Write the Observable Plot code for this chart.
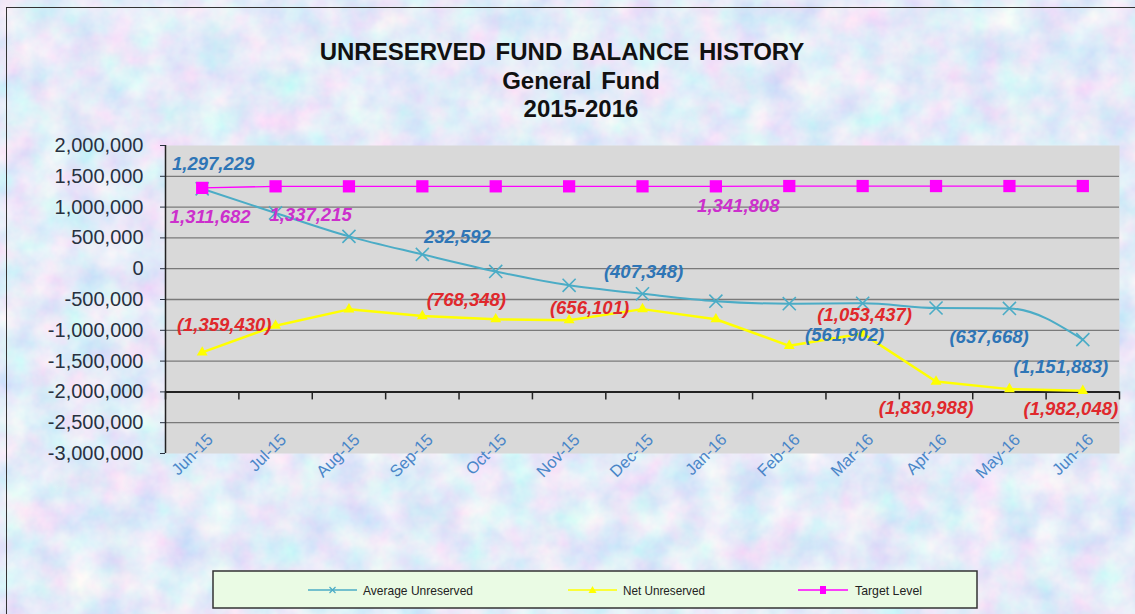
<!DOCTYPE html>
<html>
<head>
<meta charset="utf-8">
<script src="https://cdn.jsdelivr.net/npm/d3@7"></script>
<script src="https://cdn.jsdelivr.net/npm/@observablehq/plot@0.6"></script>
<style>
  html, body { margin: 0; padding: 0; }
  body { width: 1135px; height: 614px; overflow: hidden; font-family: "Liberation Sans", Arial, sans-serif; }
  #wrap { position: relative; width: 1135px; height: 614px; overflow: hidden; }
  #bg, #chart, #overlay { position: absolute; left: 0; top: 0; }
  #overlay { pointer-events: none; }
  #border { position: absolute; left: 6px; top: 7px; width: 1200px; height: 700px; border: 1.5px solid #333; box-sizing: border-box; }
</style>
</head>
<body>
<div id="wrap">
  <svg id="bg" width="1135" height="614">
    <defs>
      <filter id="tex" x="0" y="0" width="100%" height="100%">
        <feTurbulence type="fractalNoise" baseFrequency="0.03" numOctaves="4" seed="11" result="n"/>
        <feColorMatrix in="n" type="matrix"
          values="0.55 0 0 0 0.50
                  0 0.38 0 0 0.64
                  0 0 0.06 0 0.91
                  0 0 0 0 1"/>
      </filter>
    </defs>
    <rect width="1135" height="614" fill="#cad6ef"/>
    <rect width="1135" height="614" filter="url(#tex)"/>
  </svg>
  <div id="border"></div>
  <div id="chart"></div>
  <svg id="overlay" width="1135" height="614"></svg>
</div>
<script>
// ---- data ----
const months = ["Jun-15","Jul-15","Aug-15","Sep-15","Oct-15","Nov-15","Dec-15","Jan-16","Feb-16","Mar-16","Apr-16","May-16","Jun-16"];
const averageUnreserved = [1297229, 905000, 525000, 232592, -45000, -270000, -407348, -527000, -568000, -561902, -637668, -645000, -1151883];
const netUnreserved = [-1359430, -925000, -660000, -768348, -820000, -836000, -656101, -820000, -1252000, -1053437, -1830988, -1955000, -1982048];
const targetLevel = [1311682, 1337215, 1337215, 1337215, 1337215, 1337215, 1337215, 1337215, 1341808, 1341808, 1341808, 1341808, 1341808];
const yTicks = [2000000, 1500000, 1000000, 500000, 0, -500000, -1000000, -1500000, -2000000, -2500000, -3000000];
const axisCrossValue = -2000000;
const avgLabelIdx = [0, 3, 6, 9, 10, 12];
const netLabelIdx = [0, 3, 6, 9, 10, 12];
const targetLabelIdx = [0, 1, 8];
const seriesNames = ["Average Unreserved", "Net Unreserved", "Target Level"];
const titleLines = ["UNRESERVED FUND BALANCE HISTORY", "General Fund", "2015-2016"];

// ---- styling / placement config ----
const colors = {avg: "#4bacc6", net: "#ffff00", target: "#ff00ff",
  avgLabel: "#2e75b6", netLabel: "#e0282c", targetLabel: "#cc2fcc", xLabel: "#4a86c8"};
const avgOffsets = {0: [11, -25], 3: [35, -17], 6: [1, -22], 9: [-18, 32], 10: [53, 29], 12: [-22, 27]};
const netOffsets = {0: [22, -27], 3: [44, -16], 6: [-53, -1], 9: [2, -19], 10: [-10, 27], 12: [-12, 18]};
const targetOffsets = {0: [8, 29], 1: [35, 29], 8: [-51, 20]};

const rows = arr => arr.map((v, i) => ({i, v}));
const avgRows = rows(averageUnreserved);
const netRows = rows(netUnreserved);
const targetRows = rows(targetLevel);
const comma = d3.format(",");
const fmtNum = v => v < 0 ? `(${comma(-v)})` : comma(v);
const gridVals = yTicks.slice(1, -1);
const bounds = d3.range(months.length + 1).map(i => i - 0.5);

function labelMarks(rowsArr, idxs, offsets, color) {
  return idxs.map(k => Plot.text([rowsArr[k]], {
    x: "i", y: "v", text: d => fmtNum(d.v),
    dx: offsets[k][0], dy: offsets[k][1],
    fill: color, fontSize: 18.5, fontWeight: "bold", fontStyle: "italic",
    textAnchor: "middle", lineAnchor: "middle"
  }));
}

const chart = Plot.plot({
  width: 1135,
  height: 614,
  marginLeft: 165,
  marginRight: 16,
  marginTop: 145,
  marginBottom: 161,
  style: {background: "transparent", fontFamily: "'Liberation Sans', Arial, sans-serif", overflow: "visible"},
  x: {type: "linear", domain: [-0.5, months.length - 0.5], axis: null},
  y: {domain: [-3000000, 2000000], axis: null},
  marks: [
    Plot.frame({fill: "#d9d9d9", stroke: "none"}),
    Plot.ruleY(gridVals, {stroke: "#7a7a7a", strokeWidth: 1.3}),
    Plot.ruleX([-0.5], {stroke: "#222", strokeWidth: 1.5}),
    Plot.ruleY([axisCrossValue], {stroke: "#222", strokeWidth: 2}),
    Plot.ruleX(bounds, {y1: axisCrossValue, y2: axisCrossValue, insetBottom: -8, stroke: "#222", strokeWidth: 1.5}),
    Plot.axisY(yTicks, {
      tickSize: 5, tickPadding: 17, fontSize: 20, color: "#28313f", label: null,
      tickFormat: d => comma(d).replace("\u2212", "-")
    }),
    Plot.text(months, {
      x: (d, i) => i, y: () => axisCrossValue, text: d => d,
      rotate: -45, textAnchor: "end", dx: 8, dy: 45,
      fill: colors.xLabel, fontSize: 16.5
    }),
    Plot.line(avgRows, {x: "i", y: "v", stroke: colors.avg, strokeWidth: 2, curve: "monotone-x"}),
    Plot.dot(avgRows, {x: "i", y: "v", symbol: "times", r: 6, stroke: colors.avg, strokeWidth: 1.6}),
    Plot.line(netRows, {x: "i", y: "v", stroke: colors.net, strokeWidth: 2.5}),
    Plot.dot(netRows, {x: "i", y: "v", symbol: "triangle2", r: 5.2, fill: colors.net, stroke: "none"}),
    Plot.line(targetRows, {x: "i", y: "v", stroke: colors.target, strokeWidth: 1.3}),
    Plot.dot(targetRows, {x: "i", y: "v", symbol: "square2", r: 7.8, fill: colors.target, stroke: "none"}),
    ...labelMarks(avgRows, avgLabelIdx, avgOffsets, colors.avgLabel),
    ...labelMarks(netRows, netLabelIdx, netOffsets, colors.netLabel),
    ...labelMarks(targetRows, targetLabelIdx, targetOffsets, colors.targetLabel)
  ]
});
document.getElementById("chart").appendChild(chart);

// ---- titles and legend (overlay) ----
const ov = d3.select("#overlay");
const titlePos = [[562, 60], [581, 89], [581, 117]];
titleLines.forEach((t, k) => {
  ov.append("text").attr("x", titlePos[k][0]).attr("y", titlePos[k][1])
    .attr("text-anchor", "middle").attr("font-family", "'Liberation Sans', Arial, sans-serif")
    .attr("font-weight", "bold").attr("font-size", 24).attr("word-spacing", 3)
    .attr("fill", "#111").text(t);
});

const lg = ov.append("g");
lg.append("rect").attr("x", 213).attr("y", 571).attr("width", 764).attr("height", 37)
  .attr("fill", "#eafbe4").attr("stroke", "#333").attr("stroke-width", 1.5);
const legendItems = [
  {x0: 308, x1: 357, tx: 363, tw: 110, color: colors.avg, sym: "times"},
  {x0: 568, x1: 617, tx: 623, tw: 82, color: colors.net, sym: "triangle"},
  {x0: 798, x1: 848, tx: 855, tw: 67, color: colors.target, sym: "square"}
];
const ly = 590;
legendItems.forEach((it, k) => {
  lg.append("line").attr("x1", it.x0).attr("x2", it.x1).attr("y1", ly).attr("y2", ly)
    .attr("stroke", it.color).attr("stroke-width", 1.5);
  const cx = (it.x0 + it.x1) / 2;
  if (it.sym === "times") {
    lg.append("path").attr("d", `M${cx-3},${ly-3}L${cx+3},${ly+3}M${cx-3},${ly+3}L${cx+3},${ly-3}`)
      .attr("stroke", it.color).attr("stroke-width", 1.2);
  } else if (it.sym === "triangle") {
    lg.append("path").attr("d", `M${cx},${ly-4}L${cx+4},${ly+3}L${cx-4},${ly+3}Z`).attr("fill", it.color);
  } else {
    lg.append("rect").attr("x", cx - 3).attr("y", ly - 4).attr("width", 6).attr("height", 8).attr("fill", it.color);
  }
  lg.append("text").attr("x", it.tx).attr("y", ly + 5)
    .attr("font-family", "'Liberation Sans', Arial, sans-serif").attr("font-size", 13.5)
    .attr("textLength", it.tw).attr("lengthAdjust", "spacingAndGlyphs")
    .attr("fill", "#222").text(seriesNames[k]);
});
</script>
</body>
</html>
